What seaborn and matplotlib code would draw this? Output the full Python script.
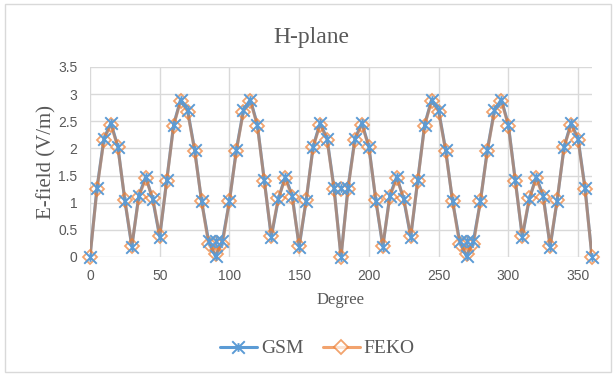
import matplotlib
matplotlib.use("Agg")
import matplotlib.pyplot as plt
from matplotlib.lines import Line2D
from matplotlib.patches import Rectangle
from matplotlib.path import Path
from matplotlib.font_manager import FontProperties
import seaborn as sns

# -----------------------------
# Data
# -----------------------------
degree = list(range(0, 365, 5))

gsm = [0.00, 1.27, 2.18, 2.47, 2.03, 1.04, 0.19, 1.13, 1.48, 1.06,
       0.37, 1.41, 2.44, 2.90, 2.70, 1.98, 1.03, 0.30, 0.01,
       0.30, 1.03, 1.98, 2.70, 2.90, 2.44, 1.41, 0.37, 1.06, 1.48,
       1.13, 0.19, 1.04, 2.03, 2.47, 2.18, 1.27, 0.00,
       1.27, 2.18, 2.47, 2.03, 1.04, 0.19, 1.13, 1.48, 1.06,
       0.37, 1.41, 2.44, 2.90, 2.70, 1.98, 1.03, 0.30, 0.01,
       0.30, 1.03, 1.98, 2.70, 2.90, 2.44, 1.41, 0.37, 1.06, 1.48,
       1.13, 0.19, 1.04, 2.03, 2.47, 2.18, 1.27, 0.00]

feko = [0.00, 1.25, 2.16, 2.44, 2.02, 1.05, 0.21, 1.10, 1.45, 1.08,
        0.39, 1.40, 2.42, 2.88, 2.68, 1.96, 1.04, 0.24, 0.05,
        0.24, 1.04, 1.96, 2.68, 2.88, 2.42, 1.40, 0.39, 1.08, 1.45,
        1.10, 0.21, 1.05, 2.02, 2.44, 2.16, 1.25, 0.00,
        1.25, 2.16, 2.44, 2.02, 1.05, 0.21, 1.10, 1.45, 1.08,
        0.39, 1.40, 2.42, 2.88, 2.68, 1.96, 1.04, 0.24, 0.05,
        0.24, 1.04, 1.96, 2.68, 2.88, 2.42, 1.40, 0.39, 1.08, 1.45,
        1.10, 0.21, 1.05, 2.02, 2.44, 2.16, 1.25, 0.00]

# stray duplicate samples that sit off the line
extra_degree = [90, 180, 270]
extra_gsm = [0.29, 1.27, 0.29]
extra_feko = [0.25, 1.25, 0.25]

x_ticks = [0, 50, 100, 150, 200, 250, 300, 350]
y_ticks = [0, 0.5, 1, 1.5, 2, 2.5, 3, 3.5]
y_tick_labels = ["0", "0.5", "1", "1.5", "2", "2.5", "3", "3.5"]

blue = "#5B9BD5"
orange = "#ED7D31"
text_grey = "#595959"
grid_grey = "#D9D9D9"

# Excel-like star marker: big X with a short vertical bar
star = Path([(-1, -1), (1, 1), (-1, 1), (1, -1), (0, -0.7), (0, 0.7)],
            [Path.MOVETO, Path.LINETO, Path.MOVETO, Path.LINETO,
             Path.MOVETO, Path.LINETO])

serif = ["Liberation Serif", "DejaVu Serif"]

# -----------------------------
# Plot
# -----------------------------
sns.set_style("white")
plt.rcParams["font.family"] = serif

fig = plt.figure(figsize=(6.16, 3.74), dpi=100)
ax = fig.add_axes([90 / 616, 1 - 257 / 374, 502 / 616, 190 / 374])

# lines
sns.lineplot(x=degree, y=gsm, ax=ax, color=blue, linewidth=2.2,
             estimator=None, zorder=2)
sns.lineplot(x=degree, y=feko, ax=ax, color=orange, linewidth=2.2, alpha=0.5,
             estimator=None, zorder=3)

# markers
for xs, ys in [(degree, feko), (extra_degree, extra_feko)]:
    sns.lineplot(x=xs, y=ys, ax=ax, estimator=None, linestyle="none",
                 marker="D", markersize=7, markerfacecolor="none",
                 markeredgecolor=orange, markeredgewidth=1.3, alpha=0.7,
                 zorder=4, clip_on=False)
for xs, ys in [(degree, gsm), (extra_degree, extra_gsm)]:
    sns.lineplot(x=xs, y=ys, ax=ax, estimator=None, linestyle="none",
                 marker=star, markersize=9, markerfacecolor="none",
                 markeredgecolor=blue, markeredgewidth=1.4, zorder=5,
                 clip_on=False)

ax.set_xlim(0, 360)
ax.set_ylim(0, 3.5)
ax.set_xticks(x_ticks)
ax.set_yticks(y_ticks)
ax.set_yticklabels(y_tick_labels)
ax.grid(True, color=grid_grey, linewidth=1)
ax.set_axisbelow(True)
for s in ax.spines.values():
    s.set_visible(False)
ax.tick_params(length=0, labelsize=10, labelcolor=text_grey, pad=9)
for lab in ax.get_xticklabels() + ax.get_yticklabels():
    lab.set_fontfamily("Liberation Sans")

ax.set_xlabel("Degree", fontsize=12, color=text_grey, labelpad=6)
ax.set_ylabel("E-field (V/m)", fontsize=15, color=text_grey, labelpad=1)
fig.text(0.505, 0.90, "H-plane", ha="center", va="center",
         fontsize=17, color=text_grey)

# legend
handles = [
    Line2D([], [], color=blue, linewidth=2.2, marker=star, markersize=9,
           markerfacecolor="none", markeredgecolor=blue, markeredgewidth=1.4),
    Line2D([], [], color=orange, linewidth=2.2, alpha=0.7, marker="D",
           markersize=7, markerfacecolor="white", markeredgecolor=orange,
           markeredgewidth=1.3),
]
fig.legend(handles, ["GSM", "FEKO"], loc="center", bbox_to_anchor=(0.515, 0.068),
           ncol=2, frameon=False,
           prop=FontProperties(family="Liberation Serif", size=14),
           handlelength=1.9, columnspacing=1.0, handletextpad=0.2,
           labelcolor=text_grey)

# chart border
fig.patches.append(Rectangle((5 / 616, 2 / 374), 606 / 616, 368 / 374,
                             transform=fig.transFigure, fill=False,
                             edgecolor=grid_grey, linewidth=1))

fig.savefig("out.png", dpi=100)
